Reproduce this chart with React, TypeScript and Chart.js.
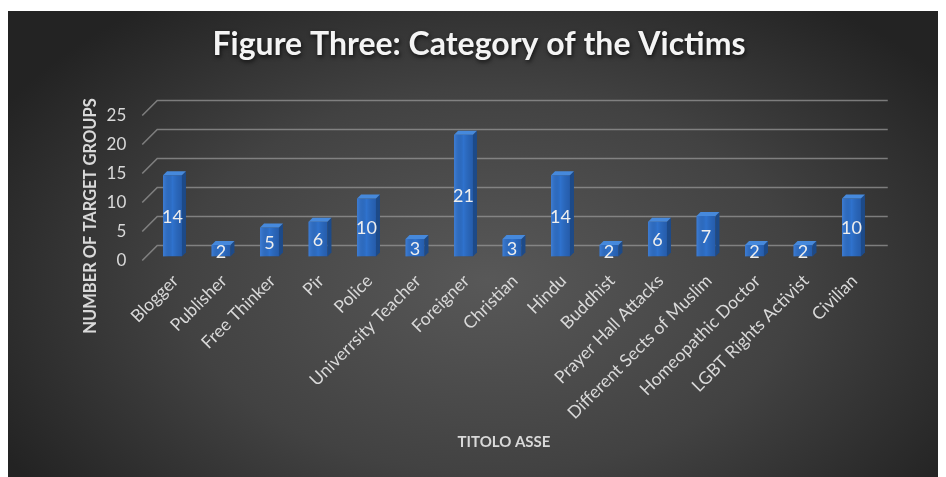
import React, { useEffect, useRef } from "react";
import { Chart, registerables } from "chart.js";

Chart.register(...registerables);

const categories = [
  "Blogger",
  "Publisher",
  "Free Thinker",
  "Pir",
  "Police",
  "Univerrsity Teacher",
  "Foreigner",
  "Christian",
  "Hindu",
  "Buddhist",
  "Prayer Hall Attacks",
  "Different Sects of Muslim",
  "Homeopathic Doctor",
  "LGBT Rights Activist",
  "Civilian",
];
const victims = [14, 2, 5, 6, 10, 3, 21, 3, 14, 2, 6, 7, 2, 2, 10];
const yTicks = [0, 5, 10, 15, 20, 25];
const chartTitle = "Figure Three: Category of the Victims";
const yTitle = "NUMBER OF TARGET GROUPS";
const xTitle = "TITOLO ASSE";

const W = 938;
const H = 466;
const FONT = "Lato, 'Open Sans', sans-serif";

const decor = {
  id: "decor",
  beforeDraw(chart: any) {
    const { ctx } = chart;
    ctx.save();
    const cx = 480, cy = 270, sy = 0.62;
    ctx.translate(cx, cy);
    ctx.scale(1, sy);
    const g = ctx.createRadialGradient(0, 0, 0, 0, 0, 560);
    g.addColorStop(0, "#585858");
    g.addColorStop(0.55, "#424242");
    g.addColorStop(1, "#232323");
    ctx.fillStyle = g;
    ctx.fillRect(-cx, -cy / sy, W, H / sy);
    ctx.restore();

    const ys = chart.scales.y;
    const area = chart.chartArea;
    ctx.save();
    ctx.strokeStyle = "rgba(150,150,150,0.75)";
    ctx.lineWidth = 1.6;
    for (const v of yTicks) {
      const p = ys.getPixelForValue(v);
      ctx.beginPath();
      ctx.moveTo(area.left - 6, p + 4);
      ctx.lineTo(area.left + 9, p - 11);
      ctx.lineTo(area.right + 12, p - 11);
      ctx.stroke();
    }
    ctx.restore();
  },
  afterDatasetsDraw(chart: any) {
    const { ctx } = chart;
    const meta = chart.getDatasetMeta(0);
    const d = 4;
    ctx.save();
    meta.data.forEach((el: any, i: number) => {
      const { x, y, base, width } = el.getProps(["x", "y", "base", "width"], true);
      const l = x - width / 2;
      const r = x + width / 2;
      const fg = ctx.createLinearGradient(l, 0, r, 0);
      fg.addColorStop(0, "rgba(90,150,235,0.35)");
      fg.addColorStop(0.5, "rgba(0,0,0,0)");
      fg.addColorStop(1, "rgba(10,30,80,0.25)");
      ctx.fillStyle = fg;
      ctx.fillRect(l, y, width, base - y);
      ctx.fillStyle = "#1d4a88";
      ctx.beginPath();
      ctx.moveTo(r, y);
      ctx.lineTo(r + d, y - d);
      ctx.lineTo(r + d, base - d);
      ctx.lineTo(r, base);
      ctx.closePath();
      ctx.fill();
      ctx.fillStyle = "#4689dc";
      ctx.beginPath();
      ctx.moveTo(l, y);
      ctx.lineTo(l + d, y - d);
      ctx.lineTo(r + d, y - d);
      ctx.lineTo(r, y);
      ctx.closePath();
      ctx.fill();
      ctx.fillStyle = "#eeeeee";
      ctx.font = `18px ${FONT}`;
      ctx.textAlign = "center";
      ctx.textBaseline = "middle";
      ctx.fillText(String(victims[i]), x, (y + base) / 2 + 1);
    });
    ctx.restore();
  },
  afterDraw(chart: any) {
    const { ctx } = chart;
    ctx.save();
    ctx.font = `bold 32px ${FONT}`;
    ctx.textAlign = "center";
    ctx.textBaseline = "middle";
    ctx.shadowColor = "rgba(0,0,0,0.7)";
    ctx.shadowBlur = 4;
    ctx.shadowOffsetX = 1;
    ctx.shadowOffsetY = 2;
    ctx.fillStyle = "#f4f4f4";
    ctx.fillText(chartTitle, 471, 34);
    ctx.shadowColor = "transparent";
    ctx.font = `bold 15px ${FONT}`;
    ctx.fillStyle = "#d9d9d9";
    ctx.fillText(xTitle, 496, 431);
    ctx.translate(83, 205);
    ctx.rotate(-Math.PI / 2);
    ctx.font = `bold 16.5px ${FONT}`;
    ctx.fillText(yTitle, 0, 0);
    ctx.restore();
  },
};

export default function App() {
  const ref = useRef<HTMLCanvasElement>(null);
  useEffect(() => {
    const chart = new Chart(ref.current as HTMLCanvasElement, {
      type: "bar",
      data: {
        labels: categories,
        datasets: [
          {
            label: "Victims",
            data: victims,
            backgroundColor: "#2f72cd",
            borderWidth: 0,
            categoryPercentage: 1,
            barPercentage: 0.39,
          },
        ],
      },
      options: {
        responsive: false,
        animation: false,
        layout: { padding: { top: 100.5, left: 0, right: 70.25, bottom: 0 } },
        plugins: {
          legend: { display: false },
          title: { display: false },
          tooltip: { enabled: false },
        },
        scales: {
          x: {
            afterFit: (s: any) => {
              s.height = 220.5;
            },
            grid: { display: false, drawTicks: false },
            border: { display: false },
            ticks: {
              color: "#d9d9d9",
              font: { family: FONT, size: 17.5 },
              minRotation: 45,
              maxRotation: 45,
              autoSkip: false,
              padding: 14,
              labelOffset: 3,
            },
          },
          y: {
            min: 0,
            max: 25,
            afterFit: (s: any) => {
              s.width = 140.25;
            },
            grid: { display: false, drawTicks: false },
            border: { display: false },
            ticks: {
              stepSize: 5,
              color: "#d9d9d9",
              font: { family: FONT, size: 17 },
              padding: 22,
              labelOffset: 4,
            },
          },
        },
      },
      plugins: [decor],
    });
    return () => chart.destroy();
  }, []);
  return (
    <div style={{ paddingTop: 3 }}>
      <canvas ref={ref} width={W} height={H} style={{ display: "block" }} />
    </div>
  );
}
